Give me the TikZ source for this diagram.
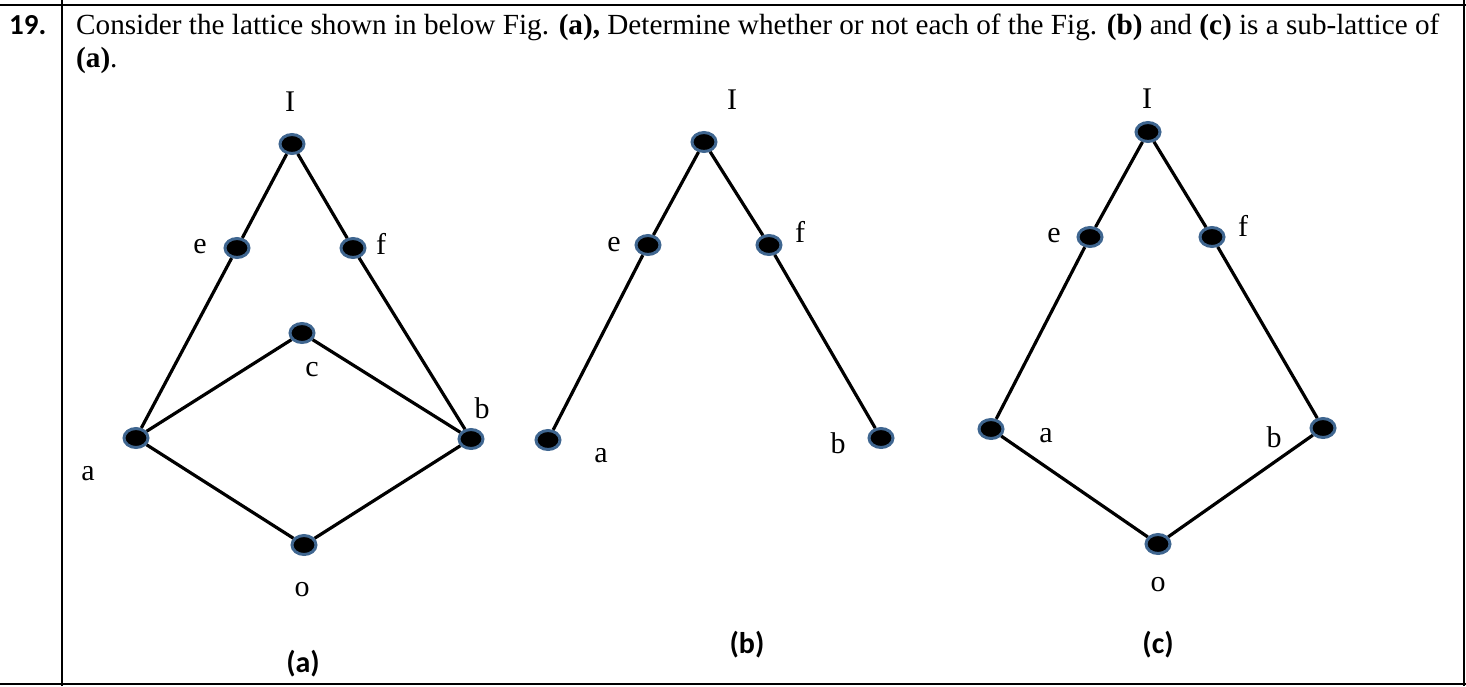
\documentclass[tikz,border=0pt]{standalone}
\usepackage{fontspec}
\setmainfont{Liberation Serif}
\newfontfamily\calib{Carlito}
\usetikzlibrary{shapes.geometric}
\definecolor{rimblue}{HTML}{3F6690}
\tikzset{
  vtx/.style={ellipse, fill=black, draw=rimblue, line width=3pt, minimum width=24pt, minimum height=19pt, inner sep=0pt},
  link/.style={line width=3.2pt, black},
  lbl/.style={font=\fontsize{30}{32}\selectfont, inner sep=0pt},
  figcap/.style={font=\calib\bfseries\fontsize{30}{32}\selectfont, inner sep=0pt},
  tabrule/.style={line width=2pt, black}
}
\begin{document}
\begin{tikzpicture}[x=1pt,y=-1pt]
\useasboundingbox (0,0) rectangle (1466,686);
% table rules
\draw[tabrule] (0,5) -- (1466,5);
\draw[tabrule] (0,684) -- (1466,684);
\draw[tabrule] (62,0) -- (62,686);
\draw[tabrule] (1464,0) -- (1464,686);
% header text
\node[anchor=base west, inner sep=0pt, font=\calib\bfseries\fontsize{29}{32}\selectfont] (num) at (9,34) {19.};
\node[anchor=base west, inner sep=0pt, font=\fontsize{29.2}{32}\selectfont] (q1) at (76,34) {Consider the lattice shown in below Fig. \textbf{(a),} Determine whether or not each of the Fig. \textbf{(b)} and \textbf{(c)} is a sub-lattice of};
\node[anchor=base west, inner sep=0pt, font=\fontsize{29.2}{32}\selectfont] (q2) at (76,67) {\textbf{(a)}.};
% Fig (a)
\node[vtx] (aI) at (292,144) {};
\node[vtx] (ae) at (237,248) {};
\node[vtx] (af) at (353,248) {};
\node[vtx] (ac) at (302,333) {};
\node[vtx] (aa) at (136,438) {};
\node[vtx] (ab) at (471,439) {};
\node[vtx] (ao) at (304,545) {};
\draw[link] (aI) -- (ae) (aI) -- (af) (ae) -- (aa) (af) -- (ab) (aa) -- (ac) (ac) -- (ab) (aa) -- (ao) (ao) -- (ab);
\node[lbl] (laI) at (290,102) {I};
\node[lbl] (lae) at (200,247) {e};
\node[lbl] (laf) at (381,244) {f};
\node[lbl] (lac) at (312,370) {c};
\node[lbl] (laa) at (88,474) {a};
\node[lbl] (lab) at (482,408) {b};
\node[lbl] (lao) at (302,590) {o};
\node[figcap] (capa) at (303,664) {(a)};
% Fig (b)
\node[vtx] (bI) at (704,142) {};
\node[vtx] (be) at (648,245) {};
\node[vtx] (bf) at (769,245) {};
\node[vtx] (ba) at (548,440) {};
\node[vtx] (bb) at (881,438) {};
\draw[link] (bI) -- (be) (bI) -- (bf) (be) -- (ba) (bf) -- (bb);
\node[lbl] (lbI) at (732,100) {I};
\node[lbl] (lbe) at (614,245) {e};
\node[lbl] (lbf) at (800,232) {f};
\node[lbl] (lba) at (601,456) {a};
\node[lbl] (lbb) at (838,443) {b};
\node[figcap] (capb) at (747,645) {(b)};
% Fig (c)
\node[vtx] (cI) at (1148,132) {};
\node[vtx] (ce) at (1090,237) {};
\node[vtx] (cf) at (1212,237) {};
\node[vtx] (ca) at (991,429) {};
\node[vtx] (cb) at (1323,428) {};
\node[vtx] (co) at (1158,544) {};
\draw[link] (cI) -- (ce) (cI) -- (cf) (ce) -- (ca) (cf) -- (cb) (ca) -- (co) (co) -- (cb);
\node[lbl] (lcI) at (1147,99) {I};
\node[lbl] (lce) at (1054,236) {e};
\node[lbl] (lcf) at (1243,226) {f};
\node[lbl] (lca) at (1046,436) {a};
\node[lbl] (lcb) at (1274,437) {b};
\node[lbl] (lco) at (1158,585) {o};
\node[figcap] (capc) at (1158,645) {(c)};
\end{tikzpicture}
\end{document}
